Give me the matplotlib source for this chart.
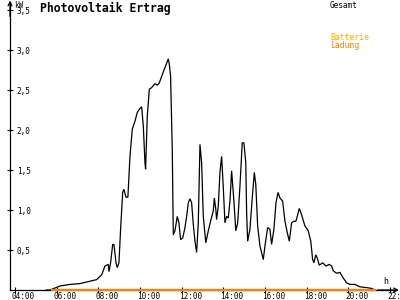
import matplotlib
matplotlib.use("Agg")
import matplotlib.pyplot as plt
from matplotlib.transforms import ScaledTranslation

# Gesamt (kW) over time of day (h)
hours = [5.50, 5.68, 6.16, 6.64, 7.12, 7.60, 7.92, 8.16, 8.32, 8.48, 8.51, 8.59,
         8.69, 8.75, 8.85, 8.91, 8.99, 9.07, 9.17, 9.23, 9.33, 9.42, 9.52, 9.63,
         9.76, 9.87, 9.97, 10.08, 10.16, 10.24, 10.27, 10.35, 10.45, 10.56, 10.72,
         10.83, 10.93, 11.04, 11.20, 11.36, 11.41, 11.47, 11.55, 11.60, 11.68,
         11.79, 11.87, 11.95, 12.05, 12.16, 12.24, 12.32, 12.40, 12.48, 12.56,
         12.64, 12.72, 12.80, 12.88, 12.96, 13.04, 13.16, 13.28, 13.41, 13.52,
         13.57, 13.64, 13.68, 13.76, 13.84, 13.92, 14.00, 14.08, 14.16, 14.24,
         14.32, 14.40, 14.51, 14.60, 14.69, 14.80, 14.91, 14.99, 15.08, 15.12,
         15.17, 15.28, 15.39, 15.49, 15.56, 15.65, 15.76, 15.92, 16.00, 16.13,
         16.24, 16.32, 16.43, 16.53, 16.63, 16.72, 16.85, 16.96, 17.07, 17.17,
         17.28, 17.39, 17.49, 17.65, 17.76, 17.92, 18.08, 18.20, 18.29, 18.35,
         18.44, 18.51, 18.61, 18.77, 18.93, 19.09, 19.20, 19.28, 19.44, 19.60,
         19.76, 19.92, 20.08, 20.32, 20.56, 20.88, 21.12, 21.28]
gesamt = [0.00, 0.00, 0.05, 0.07, 0.08, 0.11, 0.13, 0.19, 0.30, 0.32, 0.23, 0.34,
          0.57, 0.57, 0.34, 0.28, 0.34, 0.76, 1.22, 1.26, 1.16, 1.16, 1.67, 2.01,
          2.11, 2.22, 2.26, 2.29, 2.05, 1.59, 1.51, 2.17, 2.51, 2.53, 2.58,
          2.56, 2.59, 2.67, 2.78, 2.89, 2.82, 2.67, 1.76, 0.69, 0.74,
          0.92, 0.84, 0.63, 0.65, 0.78, 0.92, 1.09, 1.14, 1.09, 0.82,
          0.61, 0.47, 0.84, 1.82, 1.59, 0.92, 0.59, 0.74, 0.88, 0.99,
          1.15, 1.01, 0.88, 1.05, 1.47, 1.67, 1.28, 0.84, 0.92, 0.90,
          1.11, 1.49, 1.11, 0.74, 0.84, 1.30, 1.84, 1.84, 1.59, 0.97,
          0.61, 0.76, 1.15, 1.47, 1.32, 0.80, 0.55, 0.38, 0.55, 0.78,
          0.76, 0.57, 0.76, 1.09, 1.22, 1.15, 1.11, 0.86, 0.72, 0.61,
          0.84, 0.86, 0.86, 1.02, 0.94, 0.80, 0.74, 0.61, 0.38, 0.34,
          0.44, 0.40, 0.31, 0.34, 0.30, 0.32, 0.30, 0.24, 0.21, 0.22,
          0.15, 0.09, 0.07, 0.07, 0.04, 0.03, 0.02, 0.00]

# Batterie Ladung (kW)
ladung_hours = [5.78, 21.28]
ladung = [0.0, 0.0]

x_ticks = [4, 6, 8, 10, 12, 14, 16, 18, 20, 22]
x_labels = ["04:00", "06:00", "08:00", "10:00", "12:00", "14:00", "16:00",
            "18:00", "20:00", "22:00"]
y_ticks = [0.5, 1.0, 1.5, 2.0, 2.5, 3.0, 3.5]
y_labels = ["0,5", "1,0", "1,5", "2,0", "2,5", "3,0", "3,5"]

plt.rcParams['font.family'] = 'DejaVu Sans Mono'

fig = plt.figure(figsize=(4, 3), dpi=100)
ax = fig.add_axes([0.025, 0.0333, 0.9675, 0.96])

ax.plot(hours, gesamt, color='black', lw=0.9, solid_joinstyle='miter')
ax.plot(ladung_hours, ladung, color='#ff8000', lw=1.6, clip_on=False, zorder=5)

ax.set_xlim(3.76, 22.34)
ax.set_ylim(0, 3.6)

for s in ['top', 'right']:
    ax.spines[s].set_visible(False)
for s in ['left', 'bottom']:
    ax.spines[s].set_linewidth(0.9)

ax.set_xticks(x_ticks)
ax.set_xticklabels(x_labels)
ax.set_yticks(y_ticks)
ax.set_yticklabels(y_labels)
ax.tick_params(axis='both', direction='inout', length=5, width=0.8,
               labelsize=5.6)
ax.tick_params(axis='x', pad=0)
for lab in ax.get_xticklabels():
    lab.set_ha('left')
    lab.set_transform(lab.get_transform() +
                      ScaledTranslation(-3 / 100, 1.5 / 100, fig.dpi_scale_trans))
for lab in ax.get_yticklabels():
    lab.set_ha('left')
    lab.set_transform(lab.get_transform() +
                      ScaledTranslation(15 / 100, 0, fig.dpi_scale_trans))

# open arrow heads at the ends of both axes
ax.annotate('', xy=(0, 1.005), xytext=(0, 0.95), xycoords='axes fraction',
            arrowprops=dict(arrowstyle='->', lw=0.9, color='black',
                            mutation_scale=7, shrinkA=0, shrinkB=0))
ax.annotate('', xy=(1.005, 0), xytext=(0.95, 0), xycoords='axes fraction',
            arrowprops=dict(arrowstyle='->', lw=0.9, color='black',
                            mutation_scale=7, shrinkA=0, shrinkB=0))

fig.text(14 / 400, 1 - 6 / 300, "kW", fontsize=5.5, va='center', ha='left')
fig.text(383 / 400, 1 - 282 / 300, "h", fontsize=6, va='center', ha='left')

fig.text(40 / 400, 1 - 8 / 300, "Photovoltaik Ertrag", fontsize=8.3,
         fontweight='bold', va='center', ha='left')
fig.text(330 / 400, 1 - 5 / 300, "Gesamt", fontsize=5.6, va='center',
         ha='left', color='black')
fig.text(330 / 400, 1 - 37 / 300, "Batterie", fontsize=5.8, va='center',
         ha='left', color='#ffaa00')
fig.text(330 / 400, 1 - 45 / 300, "Ladung", fontsize=5.8, va='center',
         ha='left', color='#ff8000')

fig.savefig("out.png", dpi=100)
